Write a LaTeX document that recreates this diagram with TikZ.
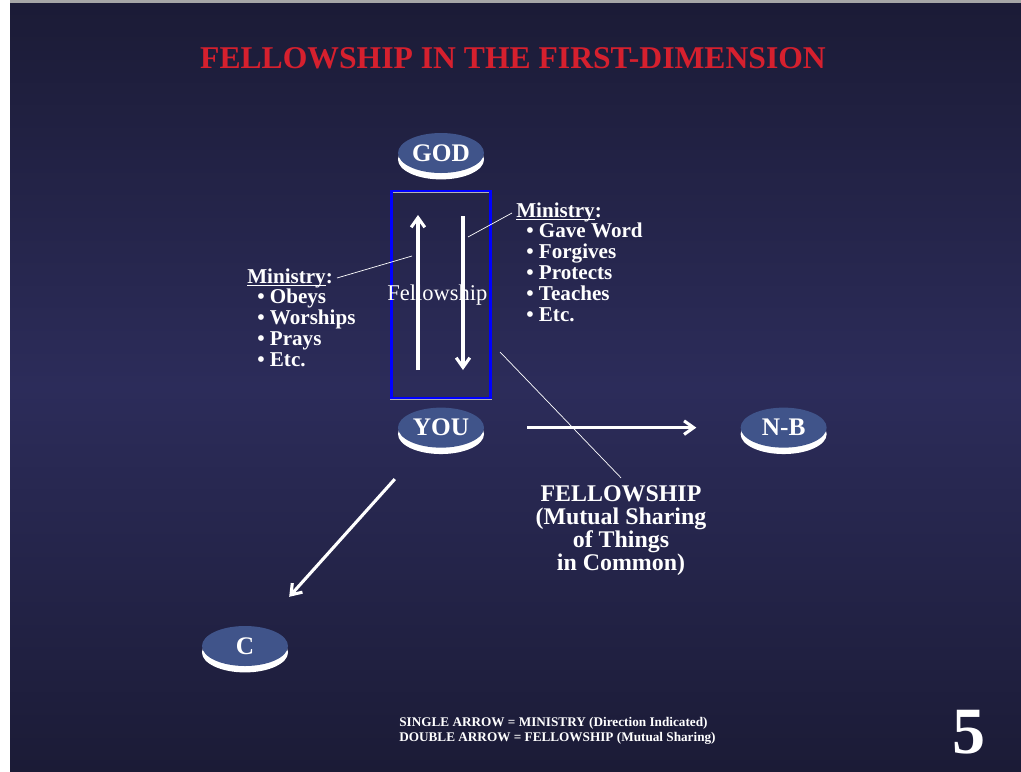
\documentclass[tikz,border=0pt]{standalone}
\usepackage{fontspec}
\setmainfont{Liberation Serif}
\usetikzlibrary{shapes,arrows.meta,positioning,shadows}

\definecolor{bgtop}{RGB}{27,27,54}
\definecolor{bgmid}{RGB}{44,44,90}
\definecolor{discblue}{RGB}{64,84,138}
\definecolor{titlered}{RGB}{214,32,46}

\tikzset{
    disc/.style={ellipse, fill=discblue, minimum width=2.15cm, minimum height=1cm, inner sep=0pt,
        text=white, font=\fontsize{18}{18}\selectfont\bfseries,
        drop shadow={shadow xshift=0cm, shadow yshift=-0.16cm, fill=white, opacity=1}},
    bigarrow/.style={draw=white, line width=2.2pt, -{Straight Barb[length=2.4mm, width=3.4mm]}},
    leader/.style={draw=white, line width=0.5pt},
    ministry/.style={align=left, anchor=north west, inner sep=0pt, text=white,
        font=\fontsize{15}{14.8}\selectfont\bfseries}
}

\begin{document}
\begin{tikzpicture}[x=0.025cm, y=-0.025cm]
    \useasboundingbox (0,0) rectangle (1021,771);

    %-----Background-----
    \fill[white] (0,0) rectangle (1021,771);
    \fill[gray!70] (10,0) rectangle (1021,3);
    \shade[top color=bgtop, bottom color=bgtop, middle color=bgmid] (10,3) rectangle (1021,771);

    % Title
    \node [anchor=base, text=titlered, font=\fontsize{22.5}{22.5}\selectfont\bfseries] (title) at (513,68) {%
        FELLOWSHIP IN THE FIRST-DIMENSION
    };

    %-----Discs-----
    % God
    \node [disc] (god) at (441,153) {GOD};

    % Fellowship Box
    \node [rectangle, draw=blue, line width=1.5pt, preaction={draw=gray!60, line width=2.3pt},
        minimum width=2.475cm, minimum height=5.175cm, below=0.425cm of god] (fbox) {};
    \node [text=white, font=\fontsize{16}{16}\selectfont] (flabel) at ([xshift=-0.09cm]fbox.center) {Fellowship};

    % You
    \node [disc, below=5.85cm of god] (you) {YOU};

    % N-B
    \node [disc, right=6.4cm of you] (nb) {N-B};

    % C
    \node [disc] (c) at (245,646) {C};

    %-----Ministry Lists-----
    % Your Ministry
    \node [ministry] (youmin) at (247,273) {%
        \underline{\smash{Ministry}}: \\
        \hspace*{0.25cm}\textbullet\ Obeys \\
        \hspace*{0.25cm}\textbullet\ Worships \\
        \hspace*{0.25cm}\textbullet\ Prays \\
        \hspace*{0.25cm}\textbullet\ Etc.
    };

    % God's Ministry
    \node [ministry] (godmin) at (516,207) {%
        \underline{\smash{Ministry}}: \\
        \hspace*{0.25cm}\textbullet\ Gave Word \\
        \hspace*{0.25cm}\textbullet\ Forgives \\
        \hspace*{0.25cm}\textbullet\ Protects \\
        \hspace*{0.25cm}\textbullet\ Teaches \\
        \hspace*{0.25cm}\textbullet\ Etc.
    };

    % Fellowship Note
    \node [align=center, anchor=north, inner sep=0pt, text=white, font=\fontsize{17}{16.4}\selectfont\bfseries] (fellow) at (621,485) {%
        FELLOWSHIP \\
        (Mutual Sharing \\
        of Things \\
        in Common)
    };

    %-----Arrows-----
    \coordinate (upfoot) at (418,370);
    \coordinate (uphead) at (418,215);
    \coordinate (downfoot) at (463,216);
    \coordinate (downhead) at (463,370);
    \draw [bigarrow] (upfoot) -- (uphead);
    \draw [bigarrow] (downfoot) -- (downhead);
    \draw [bigarrow, shorten <=1.075cm, shorten >=1.1cm] (you) -- (nb);
    \draw [bigarrow, shorten <=1.1cm, shorten >=1.025cm] (you) -- (c);

    %-----Leaders-----
    \coordinate (youminend) at (337,278);
    \coordinate (upmark) at (412,256);
    \coordinate (godminend) at (512,213);
    \coordinate (downmark) at (468,237);
    \coordinate (boxmark) at (500,352);
    \draw [leader] (youminend) -- (upmark);
    \draw [leader] (godminend) -- (downmark);
    \draw [leader] (boxmark) -- ([yshift=0.18cm]fellow.north);

    % Legend
    \node [anchor=north west, inner sep=0pt, align=left, text=white, font=\fontsize{9.4}{10.7}\selectfont\bfseries] (legend) at (399,717) {%
        SINGLE ARROW = MINISTRY (Direction Indicated) \\
        DOUBLE ARROW = FELLOWSHIP (Mutual Sharing)
    };

    % Page Number
    \node [anchor=north, inner sep=0pt, text=white, font=\fontsize{47}{47}\selectfont\bfseries] (pagenum) at (969,710) {5};

\end{tikzpicture}
\end{document}
